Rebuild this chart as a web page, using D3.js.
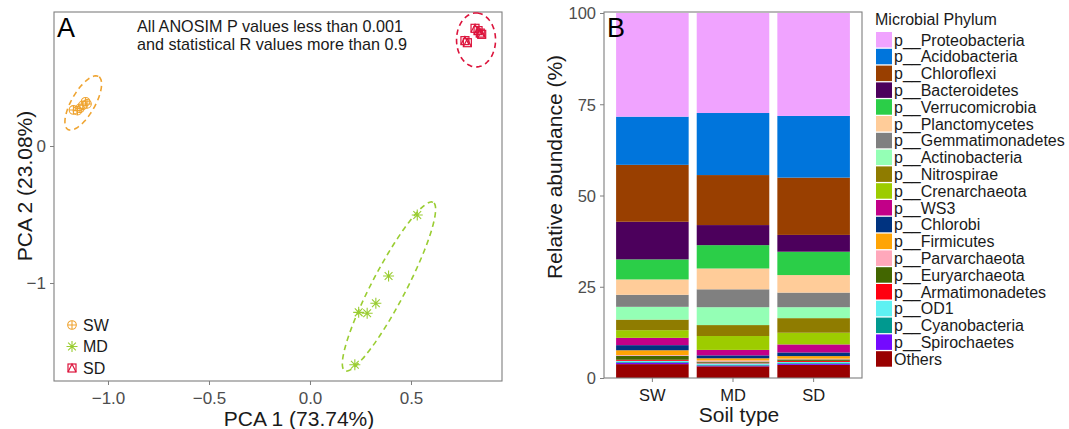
<!DOCTYPE html>
<html><head><meta charset="utf-8">
<script src="https://cdn.jsdelivr.net/npm/d3@7"></script>
<style>
body{margin:0;background:#fff;}
svg{display:block;font-family:"Liberation Sans",Arial,sans-serif;}
</style></head>
<body>
<svg id="c" width="1069" height="429"></svg>
<script>
// ---------- Panel A data ----------
const groups = ["SW","MD","SD"];
const groupColors = ["#EFA431","#9ACD32","#DC143C"];
const swPoints = [[-1.171,0.263],[-1.151,0.258],[-1.139,0.275],[-1.125,0.297],[-1.111,0.323],[-1.104,0.307]];
const mdPoints = [[0.531,-0.504],[0.389,-0.949],[0.326,-1.148],[0.283,-1.221],[0.241,-1.214],[0.222,-1.596]];
const sdPoints = [[0.817,0.859],[0.832,0.842],[0.850,0.815],[0.843,0.824],[0.767,0.769],[0.779,0.754]];
// ellipses: centre, major semi-axis vector, minor semi-axis vector (data units)
const swEllipse = {c:[-1.1225,0.314], u:[0.0757,0.1934], v:[0.0500,-0.043]};
const mdEllipse = {c:[0.391,-1.0255], u:[0.2185,0.6148], v:[0.0745,-0.0575]};
const sdEllipse = {c:[0.822,0.774], u:[0,0.197], v:[0.0965,0]};
const xTicksA = [-1.0,-0.5,0.0,0.5];
const yTicksA = [0,-1];
const xDomainA = [-1.2673,0.9505];
const yDomainA = [-1.715,0.978];
const annotation = ["All ANOSIM P values less than 0.001","and statistical R values more than 0.9"];

// ---------- Panel B data ----------
const soils = ["SW","MD","SD"];
const phyla = ["p__Proteobacteria","p__Acidobacteria","p__Chloroflexi","p__Bacteroidetes","p__Verrucomicrobia",
 "p__Planctomycetes","p__Gemmatimonadetes","p__Actinobacteria","p__Nitrospirae","p__Crenarchaeota","p__WS3",
 "p__Chlorobi","p__Firmicutes","p__Parvarchaeota","p__Euryarchaeota","p__Armatimonadetes","p__OD1",
 "p__Cyanobacteria","p__Spirochaetes","Others"];
const phylaColors = ["#F0A3FF","#0075DC","#993F00","#4C005C","#2BCE48","#FFCC99","#808080","#94FFB5","#8F7C00",
 "#9DCC00","#C20088","#003380","#FFA405","#FFA8BB","#426600","#FF0010","#5EF1F2","#00998F","#740AFF","#990000"];
const swValues = [28.4,13.2,15.6,10.3,5.5,4.2,3.3,3.5,2.9,2.1,2.0,1.4,1.3,0.2,1.1,0.3,0.3,0.2,0.4,3.8];
const mdValues = [27.4,17.0,13.7,5.5,6.4,5.7,4.9,4.9,3.0,3.8,1.5,0.8,0.6,0.3,0.3,0.2,0.4,0.2,0.2,3.2];
const sdValues = [28.2,16.9,15.7,4.6,6.4,4.8,4.0,3.0,4.0,3.2,2.2,1.0,0.7,0.2,0.4,0.3,0.3,0.2,0.3,3.6];
const yTicksB = [0,25,50,75,100];

// ---------- drawing ----------
const svg = d3.select("#c");
const tickCol = "#4D4D4D", frameCol = "#7F7F7F";

// Panel A
const xA = d3.scaleLinear().domain(xDomainA).range([54,502]);
const yA = d3.scaleLinear().domain(yDomainA).range([381,12]);
const gA = svg.append("g");
gA.append("rect").attr("x",54).attr("y",12).attr("width",448).attr("height",369)
  .attr("fill","none").attr("stroke",frameCol).attr("stroke-width",1.1);
const axA = gA.append("g").attr("transform","translate(0,381)")
  .call(d3.axisBottom(xA).tickValues(xTicksA).tickSize(4).tickPadding(4).tickFormat(d3.format(".1f")));
const ayA = gA.append("g").attr("transform","translate(54,0)")
  .call(d3.axisLeft(yA).tickValues(yTicksA).tickSize(4).tickPadding(4).tickFormat(d3.format("d")));
[axA,ayA].forEach(a=>{
  a.select(".domain").remove();
  a.selectAll("line").attr("stroke",frameCol);
  a.selectAll("text").attr("fill",tickCol).style("font-size","17px").style("font-family","Liberation Sans, Arial");
});
axA.selectAll("text").attr("dy","0.9em");
ayA.selectAll("text").attr("dy","0.35em");

// ellipses
const ellipses = [swEllipse, mdEllipse, sdEllipse];
ellipses.forEach((e,i)=>{
  const pts = d3.range(0,361,4).map(t=>{
    const a = t*Math.PI/180;
    return [xA(e.c[0]+e.u[0]*Math.cos(a)+e.v[0]*Math.sin(a)), yA(e.c[1]+e.u[1]*Math.cos(a)+e.v[1]*Math.sin(a))];
  });
  gA.append("path").attr("d",d3.line().curve(d3.curveCardinalClosed)(pts.slice(0,-1)))
    .attr("fill","none").attr("stroke",groupColors[i]).attr("stroke-width",1.6).attr("stroke-dasharray","5.5,4");
});

function drawSymbol(g, type, cx, cy, col){
  if(type===0){ // circle plus
    g.append("circle").attr("cx",cx).attr("cy",cy).attr("r",4.3).attr("fill","none").attr("stroke",col).attr("stroke-width",1.1);
    g.append("path").attr("d",`M${cx-4.3},${cy}H${cx+4.3}M${cx},${cy-4.3}V${cy+4.3}`).attr("stroke",col).attr("stroke-width",1.1);
  } else if(type===1){ // asterisk
    const r=5.5, d=r*0.707;
    g.append("path").attr("d",`M${cx-r},${cy}H${cx+r}M${cx},${cy-r}V${cy+r}M${cx-d},${cy-d}L${cx+d},${cy+d}M${cx-d},${cy+d}L${cx+d},${cy-d}`)
      .attr("stroke",col).attr("stroke-width",1.1).attr("fill","none");
  } else { // square + triangle
    const s=4;
    g.append("rect").attr("x",cx-s).attr("y",cy-s).attr("width",2*s).attr("height",2*s).attr("fill","none").attr("stroke",col).attr("stroke-width",1.2);
    g.append("path").attr("d",`M${cx-s},${cy+s}L${cx},${cy-s}L${cx+s},${cy+s}`).attr("fill","none").attr("stroke",col).attr("stroke-width",1.2);
  }
}
[swPoints, mdPoints, sdPoints].forEach((pts,i)=>{
  pts.forEach(p=>drawSymbol(gA,i,xA(p[0]),yA(p[1]),groupColors[i]));
});

// panel A legend
groups.forEach((g,i)=>{
  const y = 325 + i*21.5;
  drawSymbol(gA,i,72,y,groupColors[i]);
  gA.append("text").attr("x",83).attr("y",y+5.5).text(g).style("font-size","16px").attr("fill","#1a1a1a");
});
// annotation
annotation.forEach((t,i)=>{
  gA.append("text").attr("x",137).attr("y",32+i*18).text(t).style("font-size","16.2px").attr("fill","#1a1a1a");
});
gA.append("text").attr("x",57).attr("y",37).text("A").style("font-size","27px").attr("fill","#000");
// axis titles
gA.append("text").attr("x",299).attr("y",426).attr("text-anchor","middle").text("PCA 1 (73.74%)").style("font-size","21px").attr("fill","#1a1a1a");
gA.append("text").attr("transform","translate(32,186) rotate(-90)").attr("text-anchor","middle").text("PCA 2 (23.08%)").style("font-size","21px").attr("fill","#1a1a1a");

// Panel B
const xB = d3.scaleBand().domain(soils).range([604,862]).paddingInner(0.1).paddingOuter(0.15);
const yB = d3.scaleLinear().domain([0,100]).range([378,13]);
const gB = svg.append("g");
const rows = soils.map((s,i)=>{
  const vals = [swValues,mdValues,sdValues][i];
  const o = {soil:s};
  phyla.forEach((p,j)=>o[p]=vals[j]);
  return o;
});
const stackKeys = phyla.slice().reverse();
const series = d3.stack().keys(stackKeys)(rows);
series.forEach(s=>{
  const col = phylaColors[phyla.indexOf(s.key)];
  gB.selectAll(null).data(s).enter().append("rect")
    .attr("x",d=>xB(d.data.soil)).attr("width",xB.bandwidth())
    .attr("y",d=>yB(d[1])).attr("height",d=>yB(d[0])-yB(d[1]))
    .attr("fill",col);
});
gB.append("rect").attr("x",604).attr("y",12).attr("width",258).attr("height",366)
  .attr("fill","none").attr("stroke",frameCol).attr("stroke-width",1.1);
const axB = gB.append("g").attr("transform","translate(0,378)")
  .call(d3.axisBottom(xB).tickSize(4).tickPadding(4));
const ayB = gB.append("g").attr("transform","translate(604,0)")
  .call(d3.axisLeft(yB).tickValues(yTicksB).tickSize(4).tickPadding(4));
[axB,ayB].forEach(a=>{
  a.select(".domain").remove();
  a.selectAll("line").attr("stroke",frameCol);
  a.selectAll("text").attr("fill",tickCol).style("font-size","16.5px").style("font-family","Liberation Sans, Arial");
});
axB.selectAll("text").attr("fill","#1a1a1a").attr("dy","0.9em");
ayB.selectAll("text").attr("dy","0.35em");
gB.append("text").attr("x",607).attr("y",37).text("B").style("font-size","27px").attr("fill","#000");
gB.append("text").attr("x",739).attr("y",422).attr("text-anchor","middle").text("Soil type").style("font-size","21px").attr("fill","#1a1a1a");
gB.append("text").attr("transform","translate(562,167) rotate(-90)").attr("text-anchor","middle").text("Relative abundance (%)").style("font-size","21px").attr("fill","#1a1a1a");

// legend B
const gL = svg.append("g");
gL.append("text").attr("x",875).attr("y",25).text("Microbial Phylum").style("font-size","16px").attr("fill","#1a1a1a");
phyla.forEach((p,i)=>{
  const cy = 40 + i*16.8;
  gL.append("rect").attr("x",876).attr("y",cy-8).attr("width",16).attr("height",15.5).attr("fill",phylaColors[i]);
  gL.append("text").attr("x",894).attr("y",cy+5.5).text(p).style("font-size","16px").attr("fill","#1a1a1a");
});
</script>
</body></html>
